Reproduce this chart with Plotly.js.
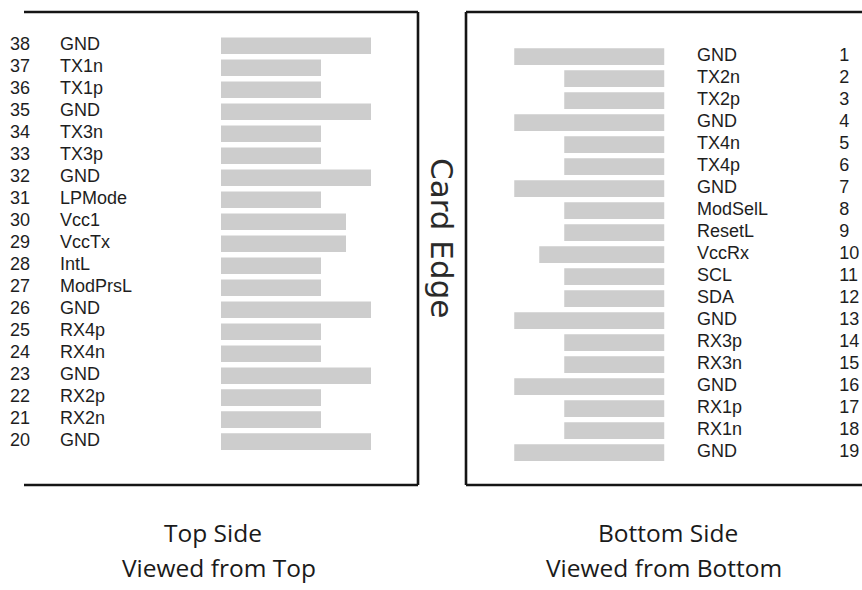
<!DOCTYPE html>
<html>
<head>
<meta charset="utf-8">
<script src="https://cdn.plot.ly/plotly-3.0.1.min.js"></script>
<style>html,body{margin:0;padding:0;background:#fff;}#chart{width:862px;height:590px;}</style>
</head>
<body>
<div id="chart"></div>
<script>
// ---- data ----
const topPins = [38,37,36,35,34,33,32,31,30,29,28,27,26,25,24,23,22,21,20];
const topNames = ["GND","TX1n","TX1p","GND","TX3n","TX3p","GND","LPMode","Vcc1","VccTx","IntL","ModPrsL","GND","RX4p","RX4n","GND","RX2p","RX2n","GND"];
const topPadLen = [6,4,4,6,4,4,6,4,5,5,4,4,6,4,4,6,4,4,6];

const bottomPins = [1,2,3,4,5,6,7,8,9,10,11,12,13,14,15,16,17,18,19];
const bottomNames = ["GND","TX2n","TX2p","GND","TX4n","TX4p","GND","ModSelL","ResetL","VccRx","SCL","SDA","GND","RX3p","RX3n","GND","RX1p","RX1n","GND"];
const bottomPadLen = [6,4,4,6,4,4,6,4,4,5,4,4,6,4,4,6,4,4,6];

const sideTitles = ["Top Side","Bottom Side"];
const sideSubtitles = ["Viewed from Top","Viewed from Bottom"];
const edgeLabel = "Card Edge";

// ---- styling / layout helpers ----
const W = 862, H = 590;
const PAD = "#cdcdcd", INK = "#1e1e1e", LINE = "#151515";
const pinFont = {family: "Liberation Sans, Arial, sans-serif", size: 18, color: INK};
const px = x => x / W;
const py = y => 1 - y / H;

const traces = [
  {type: "bar", orientation: "h", y: topPins, x: topPadLen, base: 0, width: 0.76,
   marker: {color: PAD}, xaxis: "x", yaxis: "y", hoverinfo: "skip"},
  {type: "scatter", mode: "text", y: topPins, x: topPins.map(() => -8.44),
   text: topPins.map(String), textposition: "middle right", textfont: pinFont,
   xaxis: "x", yaxis: "y", hoverinfo: "skip"},
  {type: "scatter", mode: "text", y: topPins, x: topPins.map(() => -6.44),
   text: topNames, textposition: "middle right", textfont: pinFont,
   xaxis: "x", yaxis: "y", hoverinfo: "skip"},
  {type: "bar", orientation: "h", y: bottomPins, x: bottomPadLen, base: 0, width: 0.76,
   marker: {color: PAD}, xaxis: "x2", yaxis: "y2", hoverinfo: "skip"},
  {type: "scatter", mode: "text", y: bottomPins, x: bottomPins.map(() => -1.31),
   text: bottomNames, textposition: "middle right", textfont: pinFont,
   xaxis: "x2", yaxis: "y2", hoverinfo: "skip"},
  {type: "scatter", mode: "text", y: bottomPins, x: bottomPins.map(() => -7.0),
   text: bottomPins.map(String), textposition: "middle right", textfont: pinFont,
   xaxis: "x2", yaxis: "y2", hoverinfo: "skip"}
];

const hidden = {visible: false, fixedrange: true, showgrid: false, zeroline: false};
const line = (x0, y0, x1, y1) => ({type: "line", xref: "paper", yref: "paper",
  x0: px(x0), y0: py(y0), x1: px(x1), y1: py(y1), line: {color: LINE, width: 2.6}});

const bottomFont = {family: "Open Sans, sans-serif", size: 24.5, color: "#1a1a1a"};

const layout = {
  width: W, height: H, margin: {l: 0, r: 0, t: 0, b: 0},
  paper_bgcolor: "#fff", plot_bgcolor: "rgba(0,0,0,0)", showlegend: false,
  xaxis: Object.assign({domain: [0, px(418)], range: [-8.84, 7.88], anchor: "y"}, hidden),
  yaxis: Object.assign({domain: [0, 1], range: [13.26, 40.08], anchor: "x"}, hidden),
  xaxis2: Object.assign({domain: [px(466), 1], range: [7.93, -7.91], anchor: "y2"}, hidden),
  yaxis2: Object.assign({domain: [0, 1], range: [25.24, -1.577], anchor: "x2"}, hidden),
  shapes: [
    line(24, 12, 418, 12), line(418, 12, 418, 485), line(24, 485, 418, 485),
    line(466, 12, 862, 12), line(466, 12, 466, 485), line(466, 485, 862, 485)
  ],
  annotations: [
    {xref: "paper", yref: "paper", x: px(442), y: py(238), text: edgeLabel, textangle: 90,
     showarrow: false, xanchor: "center", yanchor: "middle",
     font: {family: "DejaVu Sans, sans-serif", size: 31, color: "#2a2a2a"}},
    {xref: "paper", yref: "paper", x: px(213), y: py(532), text: sideTitles[0], showarrow: false,
     xanchor: "center", yanchor: "middle", font: bottomFont},
    {xref: "paper", yref: "paper", x: px(219), y: py(567), text: sideSubtitles[0], showarrow: false,
     xanchor: "center", yanchor: "middle", font: bottomFont},
    {xref: "paper", yref: "paper", x: px(668), y: py(532), text: sideTitles[1], showarrow: false,
     xanchor: "center", yanchor: "middle", font: bottomFont},
    {xref: "paper", yref: "paper", x: px(664), y: py(567), text: sideSubtitles[1], showarrow: false,
     xanchor: "center", yanchor: "middle", font: bottomFont}
  ]
};

Plotly.newPlot("chart", traces, layout, {displayModeBar: false, staticPlot: true});
</script>
</body>
</html>
